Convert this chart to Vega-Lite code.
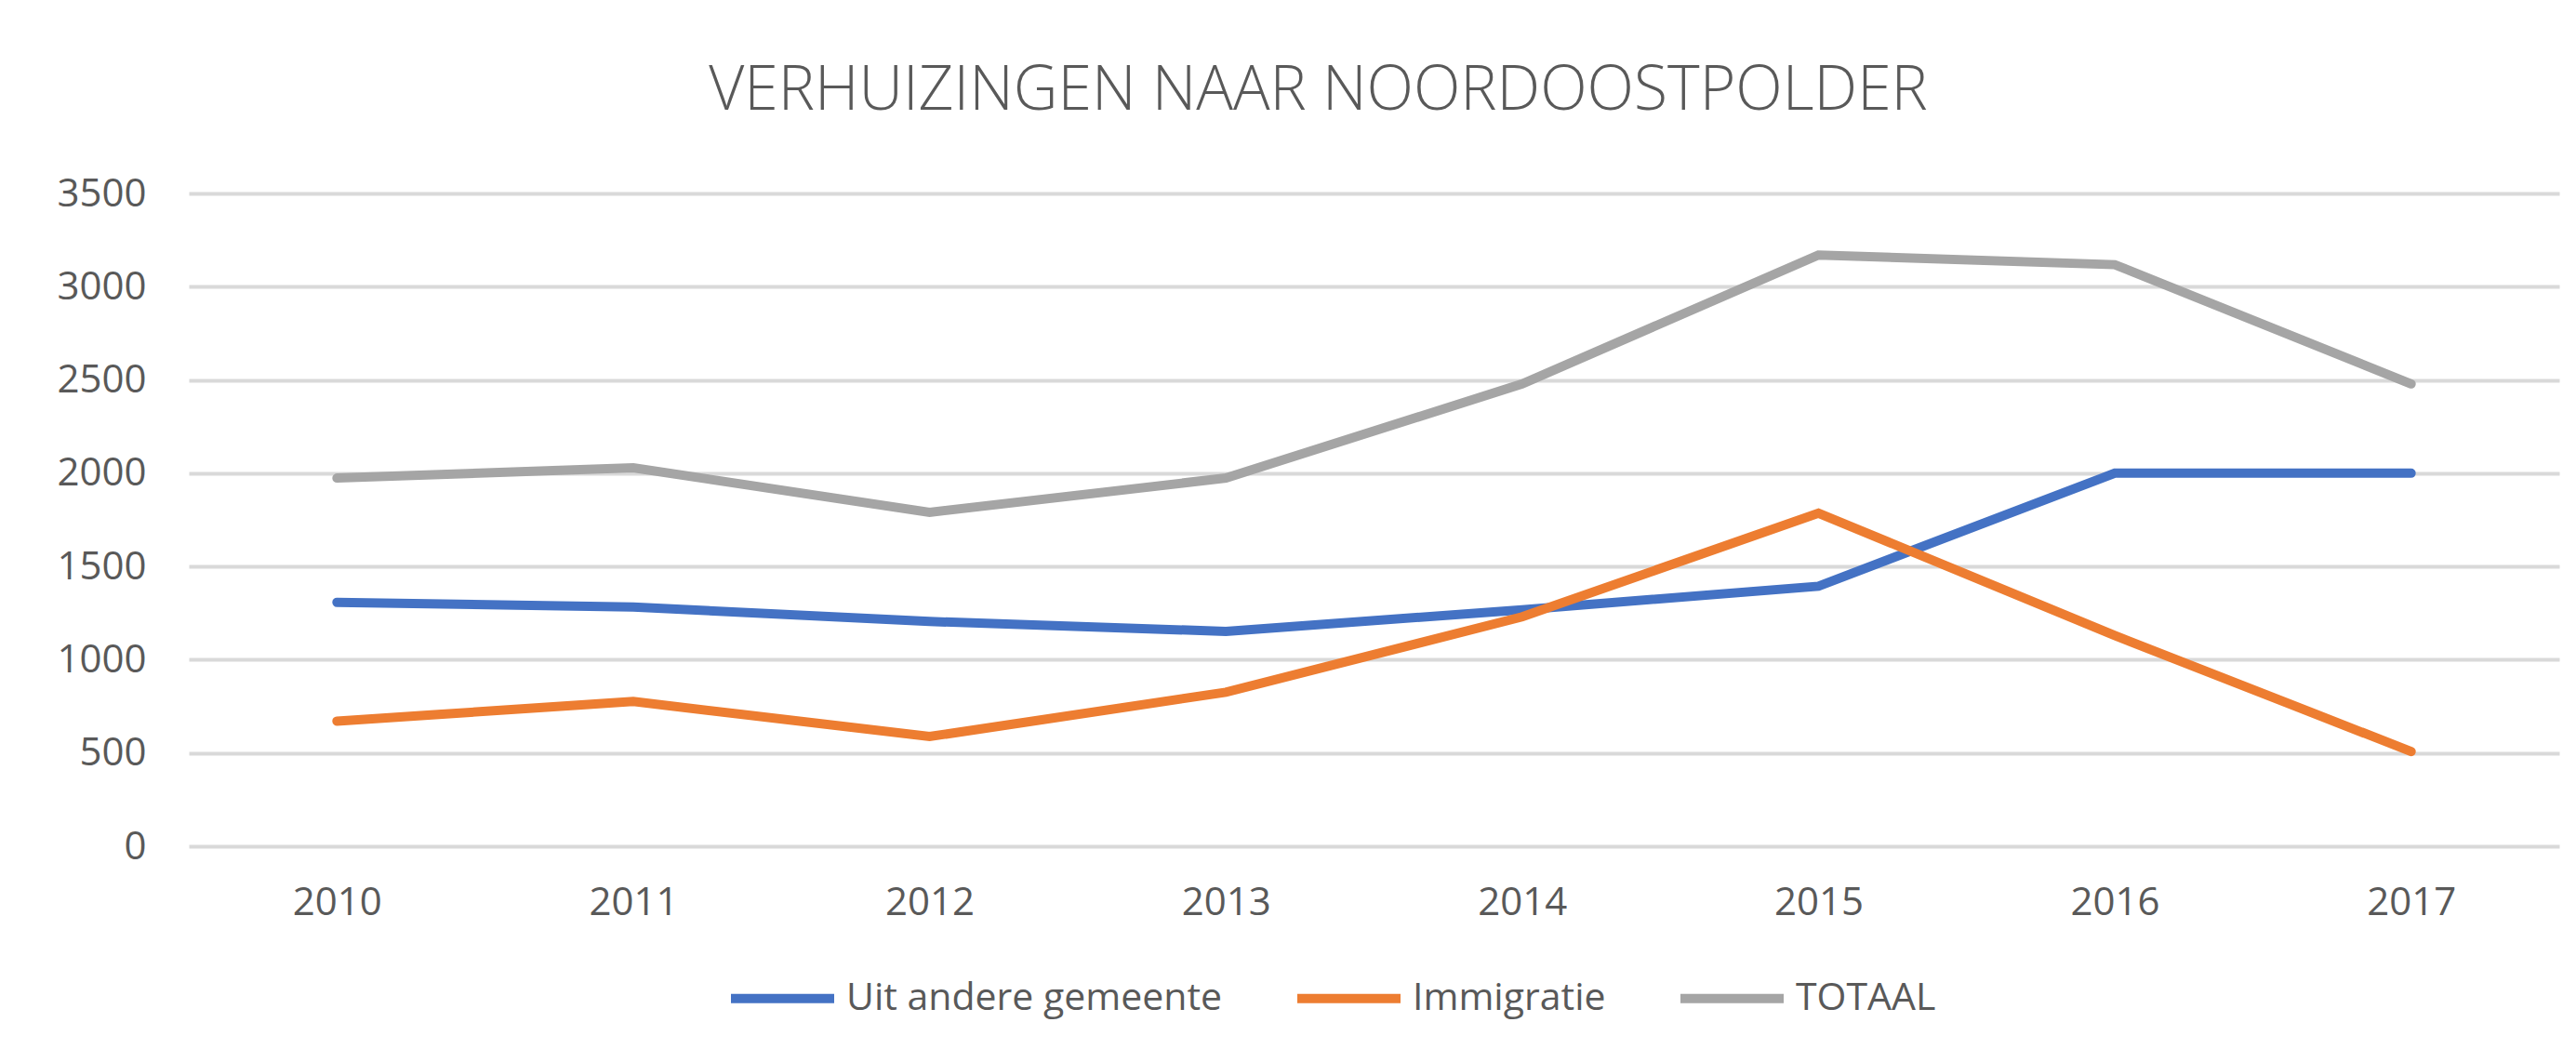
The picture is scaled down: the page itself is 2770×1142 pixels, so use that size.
{
  "$schema": "https://vega.github.io/schema/vega-lite/v6.json",
  "autosize": {"type": "none"},
  "width": 2549,
  "height": 702,
  "padding": {"left": 203, "top": 208, "right": 18, "bottom": 232},
  "background": "white",
  "title": {
    "text": "VERHUIZINGEN NAAR NOORDOOSTPOLDER",
    "font": "Open Sans",
    "fontSize": 66,
    "fontWeight": 300,
    "color": "#595959",
    "anchor": "middle",
    "baseline": "alphabetic",
    "offset": 3,
    "dx": -60
  },
  "data": {
    "values": [
      {"jaar": "2010", "reeks": "Uit andere gemeente", "aantal": 1308},
      {"jaar": "2011", "reeks": "Uit andere gemeente", "aantal": 1283},
      {"jaar": "2012", "reeks": "Uit andere gemeente", "aantal": 1205},
      {"jaar": "2013", "reeks": "Uit andere gemeente", "aantal": 1152},
      {"jaar": "2014", "reeks": "Uit andere gemeente", "aantal": 1268},
      {"jaar": "2015", "reeks": "Uit andere gemeente", "aantal": 1394},
      {"jaar": "2016", "reeks": "Uit andere gemeente", "aantal": 2000},
      {"jaar": "2017", "reeks": "Uit andere gemeente", "aantal": 2000},
      {"jaar": "2010", "reeks": "Immigratie", "aantal": 671},
      {"jaar": "2011", "reeks": "Immigratie", "aantal": 776},
      {"jaar": "2012", "reeks": "Immigratie", "aantal": 588},
      {"jaar": "2013", "reeks": "Immigratie", "aantal": 826},
      {"jaar": "2014", "reeks": "Immigratie", "aantal": 1230},
      {"jaar": "2015", "reeks": "Immigratie", "aantal": 1786},
      {"jaar": "2016", "reeks": "Immigratie", "aantal": 1130},
      {"jaar": "2017", "reeks": "Immigratie", "aantal": 508},
      {"jaar": "2010", "reeks": "TOTAAL", "aantal": 1974},
      {"jaar": "2011", "reeks": "TOTAAL", "aantal": 2029},
      {"jaar": "2012", "reeks": "TOTAAL", "aantal": 1790},
      {"jaar": "2013", "reeks": "TOTAAL", "aantal": 1974},
      {"jaar": "2014", "reeks": "TOTAAL", "aantal": 2479},
      {"jaar": "2015", "reeks": "TOTAAL", "aantal": 3170},
      {"jaar": "2016", "reeks": "TOTAAL", "aantal": 3118},
      {"jaar": "2017", "reeks": "TOTAAL", "aantal": 2479}
    ]
  },
  "mark": {"type": "line", "strokeWidth": 10, "strokeCap": "round", "strokeJoin": "miter"},
  "encoding": {
    "x": {
      "field": "jaar",
      "type": "ordinal",
      "scale": {"type": "point", "padding": 0.5},
      "axis": {
        "title": null,
        "labelAngle": 0,
        "domain": false,
        "ticks": false,
        "grid": false,
        "labelFont": "Open Sans",
        "labelFontSize": 42,
        "labelColor": "#595959",
        "labelPadding": 40
      }
    },
    "y": {
      "field": "aantal",
      "type": "quantitative",
      "scale": {"domain": [0, 3500], "nice": false},
      "axis": {
        "title": null,
        "values": [0, 500, 1000, 1500, 2000, 2500, 3000, 3500],
        "format": "d",
        "domain": false,
        "ticks": false,
        "grid": true,
        "gridColor": "#d9d9d9",
        "gridWidth": 4,
        "labelFont": "Open Sans",
        "labelFontSize": 42,
        "labelColor": "#595959",
        "labelPadding": 46
      }
    },
    "color": {
      "field": "reeks",
      "type": "nominal",
      "sort": ["Uit andere gemeente", "Immigratie", "TOTAAL"],
      "scale": {
        "domain": ["Uit andere gemeente", "Immigratie", "TOTAAL"],
        "range": ["#4472C4", "#ED7D31", "#A5A5A5"]
      },
      "legend": {
        "title": null,
        "orient": "none",
        "direction": "horizontal",
        "legendX": 578,
        "legendY": 805,
        "symbolType": "stroke",
        "symbolSize": 12321,
        "symbolStrokeWidth": 10,
        "labelFont": "Open Sans",
        "labelFontSize": 41,
        "labelColor": "#595959",
        "labelOffset": 8,
        "labelLimit": 0,
        "columnPadding": 60
      }
    }
  },
  "config": {
    "view": {"stroke": null}
  }
}
